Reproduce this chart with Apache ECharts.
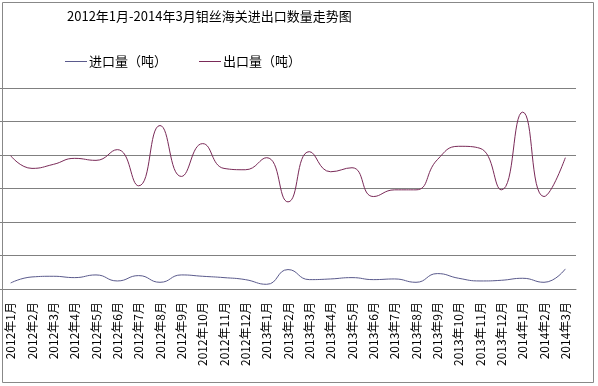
<!DOCTYPE html>
<html><head><meta charset="utf-8">
<script src="https://cdn.jsdelivr.net/npm/echarts@6/dist/echarts.min.js"></script>
<style>html,body{margin:0;padding:0;background:#fff}#c{width:598px;height:386px}</style>
</head><body><div id="c"></div>
<script>
const titleText = '2012年1月-2014年3月钼丝海关进出口数量走势图';
const categories = ['2012年1月','2012年2月','2012年3月','2012年4月','2012年5月','2012年6月','2012年7月','2012年8月','2012年9月','2012年10月','2012年11月','2012年12月','2013年1月','2013年2月','2013年3月','2013年4月','2013年5月','2013年6月','2013年7月','2013年8月','2013年9月','2013年10月','2013年11月','2013年12月','2014年1月','2014年2月','2014年3月'];
const importName = '进口量（吨）';
const exportName = '出口量（吨）';
const importValues = [9,18,19,17,21,12,20,10,21,19,17,14,7,29,14,15,17,14,15,10,23,16,12,13,16,10,30];
const exportValues = [199,180,186,195,192,208,154,244,168,217,180,178,196,130,205,175,181,138,148,148,193,213,210,148,264,138,196];
const yMin = 0, yMax = 300, yInterval = 50;

const chart = echarts.init(document.getElementById('c'));
const font = '"Noto Sans CJK SC", sans-serif';
chart.setOption({
  backgroundColor: '#fff',
  animation: false,
  title: { text: titleText, left: 67, top: 10, padding: 0, textStyle: { fontFamily: font, fontSize: 13, fontWeight: 'normal', color: '#000' } },
  legend: {
    left: 65, top: 55, padding: 0, icon: 'rect', itemWidth: 22, itemHeight: 1, itemGap: 32,
    textStyle: { fontFamily: font, fontSize: 13, color: '#000', padding: [0, 0, 0, -3] },
    data: [importName, exportName]
  },
  graphic: [{ type: 'rect', shape: { x: 2.5, y: 2.5, width: 591, height: 380 }, style: { fill: 'none', stroke: '#888', lineWidth: 1 }, silent: true, z: 100 }],
  grid: { left: -5, right: 22, top: 88, bottom: 97 },
  xAxis: {
    type: 'category', data: categories, boundaryGap: true,
    axisLine: { lineStyle: { color: '#808080' } },
    axisTick: { inside: true, length: 5, lineStyle: { color: '#808080' } },
    axisLabel: { rotate: 90, interval: 0, margin: 13, fontFamily: font, fontSize: 12, color: '#000' }
  },
  yAxis: {
    type: 'value', min: yMin, max: yMax, interval: yInterval,
    axisLine: { show: false }, axisTick: { show: false }, axisLabel: { show: false },
    splitLine: { lineStyle: { color: '#808080', width: 1 } }
  },
  series: [
    { name: importName, type: 'line', data: importValues, smooth: 0.5, symbol: 'none', lineStyle: { color: '#5a5a8c', width: 1 }, itemStyle: { color: '#5a5a8c' } },
    { name: exportName, type: 'line', data: exportValues, smooth: 0.5, symbol: 'none', lineStyle: { color: '#7a2a58', width: 1 }, itemStyle: { color: '#7a2a58' } }
  ]
});
</script></body></html>
